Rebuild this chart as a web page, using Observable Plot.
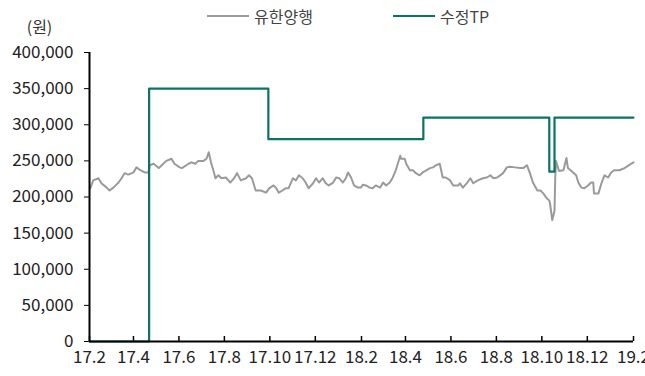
<!DOCTYPE html>
<html><head><meta charset="utf-8">
<script src="https://cdn.jsdelivr.net/npm/d3@7"></script>
<script src="https://cdn.jsdelivr.net/npm/@observablehq/plot@0.6"></script>
<style>
body{margin:0;background:#fff;}
#wrap{position:relative;width:645px;height:376px;font-family:"Noto Sans CJK KR","Noto Sans",sans-serif;}
.legend{position:absolute;top:5px;font-size:16px;color:#444;display:flex;align-items:center;line-height:22px;}
.sw{display:inline-block;width:42px;height:2px;margin-right:5px;}
</style></head><body>
<div id="wrap">
<div class="legend" style="left:207px"><span class="sw" style="background:#9a9a9a"></span>유한양행</div>
<div class="legend" style="left:393px"><span class="sw" style="background:#0b7268"></span>수정TP</div>
</div>
<script>
// ---- data ----
const seriesNames = ["유한양행", "수정TP"];
const unitLabel = "(원)";
const xTickLabels = ["17.2","17.4","17.6","17.8","17.10","17.12","18.2","18.4","18.6","18.8","18.10","18.12","19.2"];
const yTicks = [0,50000,100000,150000,200000,250000,300000,350000,400000];
const priceSeries = [
["2017-02-02",212000],["2017-02-06",223000],["2017-02-13",226000],["2017-02-17",219000],["2017-02-24",213000],
["2017-02-28",209000],["2017-03-05",213000],["2017-03-12",220000],["2017-03-16",226000],["2017-03-20",233000],
["2017-03-25",231000],["2017-04-01",234000],["2017-04-05",241000],["2017-04-09",238000],["2017-04-16",234000],
["2017-04-21",234000],["2017-04-23",244000],["2017-04-28",246000],["2017-05-05",240000],["2017-05-09",244000],
["2017-05-15",250000],["2017-05-22",253000],["2017-05-26",246000],["2017-06-02",241000],["2017-06-05",240000],
["2017-06-14",246000],["2017-06-18",248000],["2017-06-23",246000],["2017-06-27",250000],["2017-07-04",250000],
["2017-07-08",253000],["2017-07-11",262000],["2017-07-14",248000],["2017-07-18",234000],["2017-07-20",226000],
["2017-07-24",230000],["2017-07-28",226000],["2017-08-03",227000],["2017-08-09",220000],["2017-08-14",226000],
["2017-08-18",233000],["2017-08-23",223000],["2017-08-30",226000],["2017-09-03",230000],["2017-09-07",226000],
["2017-09-12",209000],["2017-09-19",209000],["2017-09-26",206000],["2017-09-30",212000],["2017-10-06",216000],
["2017-10-09",213000],["2017-10-13",206000],["2017-10-18",209000],["2017-10-22",212000],["2017-10-26",212000],
["2017-11-01",226000],["2017-11-05",223000],["2017-11-09",230000],["2017-11-14",226000],["2017-11-18",220000],
["2017-11-22",212000],["2017-11-28",219000],["2017-12-02",226000],["2017-12-06",220000],["2017-12-11",226000],
["2017-12-15",219000],["2017-12-19",216000],["2017-12-25",220000],["2017-12-29",227000],["2018-01-02",226000],
["2018-01-07",220000],["2018-01-11",226000],["2018-01-14",234000],["2018-01-18",227000],["2018-01-22",216000],
["2018-01-27",213000],["2018-01-31",213000],["2018-02-03",217000],["2018-02-07",216000],["2018-02-12",213000],
["2018-02-16",212000],["2018-02-20",216000],["2018-02-26",213000],["2018-03-02",220000],["2018-03-06",216000],
["2018-03-11",220000],["2018-03-15",227000],["2018-03-19",237000],["2018-03-25",257000],["2018-03-26",253000],
["2018-03-31",253000],["2018-04-02",246000],["2018-04-07",237000],["2018-04-11",237000],["2018-04-15",233000],
["2018-04-20",230000],["2018-04-24",234000],["2018-04-29",237000],["2018-05-04",240000],["2018-05-08",241000],
["2018-05-12",244000],["2018-05-17",246000],["2018-05-21",227000],["2018-05-25",227000],["2018-05-31",223000],
["2018-06-04",216000],["2018-06-11",216000],["2018-06-13",219000],["2018-06-17",213000],["2018-06-23",220000],
["2018-06-27",226000],["2018-07-01",219000],["2018-07-07",223000],["2018-07-14",226000],["2018-07-19",227000],
["2018-07-24",230000],["2018-07-28",226000],["2018-08-02",227000],["2018-08-06",230000],["2018-08-10",233000],
["2018-08-15",241000],["2018-08-19",242000],["2018-08-26",241000],["2018-09-02",240000],["2018-09-06",240000],
["2018-09-11",244000],["2018-09-15",233000],["2018-09-19",220000],["2018-09-25",209000],["2018-09-29",209000],
["2018-10-03",205000],["2018-10-07",199000],["2018-10-11",195000],["2018-10-12",191000],["2018-10-15",168000],
["2018-10-16",172000],["2018-10-18",181000],["2018-10-19",227000],["2018-10-20",250000],["2018-10-24",236000],
["2018-10-30",237000],["2018-11-03",254000],["2018-11-05",240000],["2018-11-12",234000],["2018-11-16",230000],
["2018-11-19",220000],["2018-11-23",213000],["2018-11-27",212000],["2018-12-02",216000],["2018-12-06",220000],
["2018-12-09",220000],["2018-12-10",205000],["2018-12-16",205000],["2018-12-20",219000],["2018-12-24",230000],
["2018-12-29",227000],["2019-01-02",234000],["2019-01-06",237000],["2019-01-13",237000],["2019-01-20",240000],
["2019-01-26",244000],["2019-02-01",248000]
];
const tpSeries = [
["2017-02-01",0],["2017-04-22",350000],["2017-09-29",280000],["2018-04-25",310000],
["2018-10-11",235000],["2018-10-18",310000],["2019-02-01",310000]
];
const xDomain = ["2017-02-01","2019-02-01"];

// ---- build ----
const toDate = s => new Date(s + "T00:00:00Z");
const price = priceSeries.map(([d,v]) => ({date: toDate(d), value: v}));
const tp = tpSeries.map(([d,v]) => ({date: toDate(d), value: v}));
const xTicks = xTickLabels.map(s => { const [yy, m] = s.split(".").map(Number); return new Date(Date.UTC(2000+yy, m-1, 1)); });
const labelByTime = new Map(xTicks.map((d,i) => [+d, xTickLabels[i]]));
const fmt = d3.format(",");
const font = '"Noto Sans CJK KR","Noto Sans",sans-serif';

const chart = Plot.plot({
  width: 645, height: 376,
  marginLeft: 89, marginRight: 12, marginTop: 52, marginBottom: 35,
  style: {fontFamily: font, fontSize: "17px", color: "#222", background: "transparent", overflow: "visible"},
  x: {type: "utc", domain: xDomain.map(toDate)},
  y: {domain: [0, 400000]},
  marks: [
    Plot.axisY({ticks: yTicks, tickSize: 5, tickPadding: 11, tickFormat: fmt, label: null, stroke: "#000"}),
    Plot.axisX({ticks: xTicks, tickSize: 0, tickPadding: 9, tickFormat: d => labelByTime.get(+d), label: null}),
    Plot.ruleX(xTicks, {insetTop: 284, stroke: "#000", strokeWidth: 1.5}),
    Plot.lineY(price, {x: "date", y: "value", stroke: "#9a9a9a", strokeWidth: 2}),
    Plot.line(tp, {x: "date", y: "value", curve: "step-after", stroke: "#0b7268", strokeWidth: 2.2}),
    Plot.ruleX([toDate(xDomain[0])], {stroke: "#000", strokeWidth: 2}),
    Plot.ruleY([0], {stroke: "#000", strokeWidth: 2}),
    Plot.text([unitLabel], {frameAnchor: "top-left", dx: -50, dy: -31, textAnchor: "middle", fontSize: 16, fill: "#333"})
  ]
});
document.getElementById("wrap").prepend(chart);
</script>
</body></html>
